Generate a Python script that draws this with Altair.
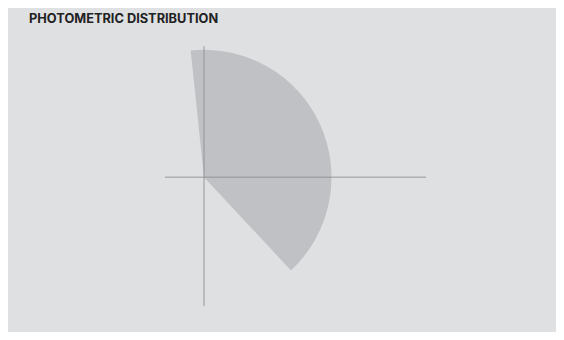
import altair as alt
import pandas as pd

# Photometric sector (degrees clockwise from vertical, intensity radius)
start_angle = [-6]
end_angle = [137]
intensity = [127.5]

# Reference axes through the origin
h_axis_x = [-39]
h_axis_x2 = [222]
v_axis_y = [-129]
v_axis_y2 = [131]

W, H = 548, 296
PLOT_TOP = 36
cy_page = 177.5 - PLOT_TOP
xscale = alt.Scale(domain=[-196, W - 196], nice=False, zero=False)
yscale = alt.Scale(domain=[cy_page - H, cy_page], nice=False, zero=False)

arc_df = pd.DataFrame({"cx": [0], "cy": [0], "start": start_angle,
                       "end": end_angle, "r": intensity})
h_df = pd.DataFrame({"x": h_axis_x, "x2": h_axis_x2, "y": [0]})
v_df = pd.DataFrame({"x": [0], "y": v_axis_y, "y2": v_axis_y2})

arc = alt.Chart(arc_df).mark_arc(color="#c0c1c4").encode(
    x=alt.X("cx:Q", scale=xscale, axis=None),
    y=alt.Y("cy:Q", scale=yscale, axis=None),
    theta=alt.Theta("start:Q", scale=alt.Scale(domain=[0, 360], range=[0, 6.283185307]), stack=None),
    theta2="end:Q",
    radius=alt.Radius("r:Q", scale=alt.Scale(type="linear", domain=[0, 127.5], range=[0, 127.5], zero=True)),
)

hrule = alt.Chart(h_df).mark_rule(color="#8f9093", opacity=0.6, strokeWidth=1.5).encode(
    x=alt.X("x:Q", scale=xscale, axis=None),
    x2="x2:Q",
    y=alt.Y("y:Q", scale=yscale, axis=None),
)
vrule = alt.Chart(v_df).mark_rule(color="#8f9093", opacity=0.6, strokeWidth=1.5).encode(
    x=alt.X("x:Q", scale=xscale, axis=None),
    y=alt.Y("y:Q", scale=yscale, axis=None),
    y2="y2:Q",
)

chart = alt.layer(arc, hrule, vrule).properties(
    width=W, height=H,
    title=alt.TitleParams("PHOTOMETRIC DISTRIBUTION", anchor="start", dx=21,
                          font="Inter", fontSize=12.8, fontWeight="bold",
                          color="#222222", offset=10),
    background="#dfe0e2",
    padding={"left": 0, "right": 0, "top": 4.7, "bottom": 0},
).configure_view(stroke=None)

chart.save("out.html", embed_options={"renderer": "svg", "actions": False})
